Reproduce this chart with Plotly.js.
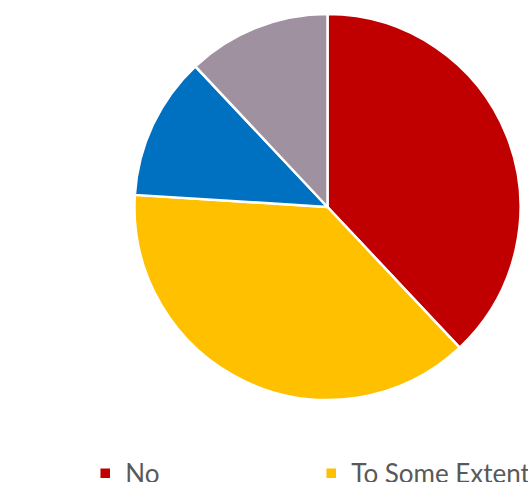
<!DOCTYPE html>
<html>
<head>
<meta charset="utf-8">
<script src="https://cdn.plot.ly/plotly-3.0.1.min.js"></script>
<style>html,body{margin:0;padding:0;background:#fff;}#chart{width:528px;height:482px;}</style>
</head>
<body>
<div id="chart"></div>
<script>
const categories = ["No", "To Some Extent", "Yes", "Don't Know"];
const values = [19, 19, 6, 6];
const colors = ["#C00000", "#FFC000", "#0070C0", "#9F91A0"];

const trace = {
  type: "pie",
  labels: categories,
  values: values,
  sort: false,
  direction: "clockwise",
  rotation: 0,
  textinfo: "none",
  hoverinfo: "label+percent",
  marker: {colors: colors, line: {color: "#ffffff", width: 2.5}},
  domain: {x: [0.2547, 0.9858], y: [0.1701, 0.9710]}
};

const layout = {
  width: 528, height: 482,
  margin: {l: 0, r: 0, t: 0, b: 0, autoexpand: false},
  paper_bgcolor: "#ffffff",
  showlegend: true,
  legend: {
    orientation: "h",
    x: 0.1614, xanchor: "left",
    y: 0.0667, yanchor: "top",
    entrywidth: 181, entrywidthmode: "pixels",
    font: {family: "Lato, 'Open Sans', sans-serif", size: 26, color: "#595959"},
    itemclick: false
  }
};

Plotly.newPlot("chart", [trace], layout, {displayModeBar: false, staticPlot: true});
</script>
</body>
</html>
